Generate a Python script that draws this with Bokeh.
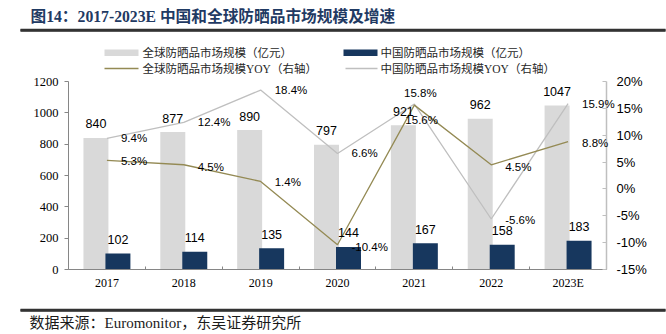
from bokeh.plotting import figure
from bokeh.models import (Range1d, LinearAxis, FixedTicker, PrintfTickFormatter,
                          ColumnDataSource, LabelSet)
from bokeh.core.properties import value
from bokeh.embed import file_html
from bokeh.resources import INLINE

# ---------------- data ----------------
years = ["2017", "2018", "2019", "2020", "2021", "2022", "2023E"]
global_size = [840, 877, 890, 797, 921, 962, 1047]          # 亿元
china_size = [102, 114, 135, 144, 167, 158, 183]            # 亿元
global_yoy = [5.3, 4.5, 1.4, -10.4, 15.6, 4.5, 8.8]         # %
china_yoy = [9.4, 12.4, 18.4, 6.6, 15.8, -5.6, 15.9]        # %
left_ticks = [0, 200, 400, 600, 800, 1000, 1200]
right_ticks = [-15, -10, -5, 0, 5, 10, 15, 20]

title_text = "图14：2017-2023E 中国和全球防晒品市场规模及增速"
source_text = "数据来源：Euromonitor，东吴证券研究所"
legend_labels = ["全球防晒品市场规模（亿元）", "中国防晒品市场规模（亿元）",
                 "全球防晒品市场规模YOY（右轴）", "中国防晒品市场规模YOY（右轴）"]

# ---------------- styling ----------------
GREY_BAR = "#d9d9d9"
NAVY = "#17375e"
OLIVE = "#948a54"
GREY_LINE = "#bfbfbf"
AXIS_GREY = "#868686"
RULE = "#333333"
SERIF = "'Liberation Serif', 'Noto Sans CJK SC'"
SANS = "'Liberation Sans', 'Noto Sans CJK SC'"

W, H = 666, 334
FL, FR = 68, 606            # left / right axis positions (canvas px)
FT, FB = 81, 269            # top / bottom of plotting area (canvas px)

# label offsets (px) for percentage labels
china_dx = [14, 14, 14, 14, 6, 14, 14]
china_dy = [0, 0, 0, 0, 11, -1, 0]
china_al = ["left", "left", "left", "left", "center", "left", "left"]
glob_dx = [14, 14, 14, 14, -9, 14, 14]
glob_dy = [-1, -2, -1, -2, -15, -2, -1]

n = len(years)
xc = [i + 0.5 for i in range(n)]
DODGE = 0.143
BW = 0.325

# the frame spans the whole canvas; axes are pinned with fixed_location
px_x = (FR - FL) / n
x_start, x_end = -FL / px_x, (W - FL) / px_x
l_lo, l_hi = left_ticks[0], left_ticks[-1]
r_lo, r_hi = right_ticks[0], right_ticks[-1]
py_l = (FB - FT) / (l_hi - l_lo)
py_r = (FB - FT) / (r_hi - r_lo)
y_l = (l_lo - (H - FB) / py_l, l_hi + FT / py_l)
y_r = (r_lo - (H - FB) / py_r, r_hi + FT / py_r)

src = ColumnDataSource(dict(
    x=xc,
    xg=[v - DODGE for v in xc],
    xn=[v + DODGE for v in xc],
    g=global_size, c=china_size, gy=global_yoy, cy=china_yoy,
    g_txt=[str(v) for v in global_size],
    c_txt=[str(v) for v in china_size],
    gy_txt=[f"{v:.1f}%" for v in global_yoy],
    cy_txt=[f"{v:.1f}%" for v in china_yoy],
    cdx=china_dx, cdy=china_dy, cal=china_al,
    gdx=glob_dx, gdy=glob_dy,
))

p = figure(width=W, height=H, output_backend="svg", toolbar_location=None,
           x_range=Range1d(x_start, x_end), y_range=Range1d(*y_l),
           x_axis_type=None, y_axis_type=None,
           min_border=0, min_border_left=0, min_border_right=0,
           min_border_top=0, min_border_bottom=0)
p.extra_y_ranges = {"pct": Range1d(*y_r), "py": Range1d(H, 0)}
p.extra_x_ranges = {"px": Range1d(0, W)}
p.outline_line_color = None
p.background_fill_color = "white"
p.border_fill_color = "white"

# ---------------- bars and lines ----------------
p.vbar(x="xg", top="g", bottom=0, width=BW, source=src,
       fill_color=GREY_BAR, line_color=None)
p.vbar(x="xn", top="c", bottom=0, width=BW, source=src,
       fill_color=NAVY, line_color=None)

p.line(x="x", y="cy", source=src, y_range_name="pct", line_color=GREY_LINE, line_width=1.3)
p.line(x="x", y="gy", source=src, y_range_name="pct", line_color=OLIVE, line_width=1.3)

# ---------------- axes ----------------
ax_l = LinearAxis(ticker=FixedTicker(ticks=left_ticks), fixed_location=0,
                  bounds=(l_lo, l_hi))
ax_l.axis_line_color = AXIS_GREY
ax_l.major_tick_line_color = AXIS_GREY
ax_l.major_tick_out = 4
ax_l.major_tick_in = 0
ax_l.minor_tick_line_color = None
ax_l.major_label_text_font = SERIF
ax_l.major_label_text_font_size = "12.5px"
ax_l.major_label_text_color = "black"
ax_l.major_label_standoff = 6
p.add_layout(ax_l, "left")

ax_r = LinearAxis(y_range_name="pct", ticker=FixedTicker(ticks=right_ticks),
                  formatter=PrintfTickFormatter(format="%d%%"), fixed_location=n,
                  bounds=(r_lo, r_hi))
ax_r.axis_line_color = GREY_LINE
ax_r.axis_line_width = 1.5
ax_r.major_tick_line_color = GREY_LINE
ax_r.major_tick_in = 4
ax_r.major_tick_out = 0
ax_r.minor_tick_line_color = None
ax_r.major_label_text_font = SANS
ax_r.major_label_text_font_size = "13px"
ax_r.major_label_text_color = "black"
ax_r.major_label_standoff = 10
p.add_layout(ax_r, "right")

ax_b = LinearAxis(ticker=FixedTicker(ticks=xc, minor_ticks=list(range(n + 1))),
                  major_label_overrides={float(v): y for v, y in zip(xc, years)},
                  fixed_location=0, bounds=(0, n))
ax_b.axis_line_color = AXIS_GREY
ax_b.major_tick_line_color = None
ax_b.minor_tick_line_color = AXIS_GREY
ax_b.minor_tick_in = 3
ax_b.minor_tick_out = 0
ax_b.major_tick_out = 0
ax_b.major_tick_in = 0
ax_b.major_label_text_font = SERIF
ax_b.major_label_text_font_size = "12px"
ax_b.major_label_text_color = "black"
ax_b.major_label_standoff = 6
p.add_layout(ax_b, "below")

# ---------------- value labels ----------------
for xf, yf, tf in (("xg", "g", "g_txt"), ("xn", "c", "c_txt")):
    p.add_layout(LabelSet(x=xf, y=yf, text=tf, source=src, y_offset=14,
                          text_align="center", text_baseline="middle",
                          text_font=value(SANS), text_font_size=value("12.5px"),
                          text_color="black"))

p.add_layout(LabelSet(x="x", y="cy", text="cy_txt", source=src, y_range_name="pct",
                      x_offset="cdx", y_offset="cdy", text_align="cal",
                      text_baseline="middle", text_font=value(SANS),
                      text_font_size=value("11.5px"), text_color="black"))
p.add_layout(LabelSet(x="x", y="gy", text="gy_txt", source=src, y_range_name="pct",
                      x_offset="gdx", y_offset="gdy", text_align="left",
                      text_baseline="middle", text_font=value(SANS),
                      text_font_size=value("11.5px"), text_color="black"))


# ---------------- title, rules, legend, source (canvas-pixel ranges) ----------------
def txt(x, y, t, size, color="#262626", style="normal", font=SERIF):
    p.text(x=[x], y=[y], text=[t], x_range_name="px", y_range_name="py",
           text_font=value(font), text_font_size=value(size),
           text_color=color, text_font_style=style, text_align="left",
           text_baseline="middle")


def hline(x0, x1, y, width, color):
    p.segment(x0=[x0], y0=[y], x1=[x1], y1=[y], x_range_name="px", y_range_name="py",
              line_color=color, line_width=width, line_cap="butt")


def rule(x0, x1, yc, thick):
    # a tick-less axis pinned at yc draws the rule as a plain axis line
    ax = LinearAxis(x_range_name="px", y_range_name="py",
                    ticker=FixedTicker(ticks=[]), fixed_location=yc, bounds=(x0, x1))
    ax.axis_line_color = RULE
    ax.axis_line_width = thick
    ax.major_tick_line_color = None
    ax.minor_tick_line_color = None
    p.add_layout(ax, "below")
    p.hbar(y=[yc], left=[x0], right=[x1], height=thick, x_range_name="px",
           y_range_name="py", fill_color=RULE, line_color=None)


txt(30, 16, title_text, "15.7px", "#1f3a63", "bold")
rule(20, W - 1, 29.5, 2.5)

hline(104, 138, 52.2, 6.5, GREY_BAR)
txt(142, 52, legend_labels[0], "11.5px")
hline(343, 377, 52.2, 6.5, NAVY)
txt(380, 52, legend_labels[1], "11.5px")
hline(104, 138, 68, 1.5, OLIVE)
txt(142, 68, legend_labels[2], "11.5px")
hline(345, 377, 68, 1.5, GREY_LINE)
txt(380, 68, legend_labels[3], "11.5px")

rule(20, W - 1, 309.5, 2.5)
txt(29, 322, source_text, "15px", "#1a1a1a")

open("out.html", "w").write(file_html(p, INLINE))
